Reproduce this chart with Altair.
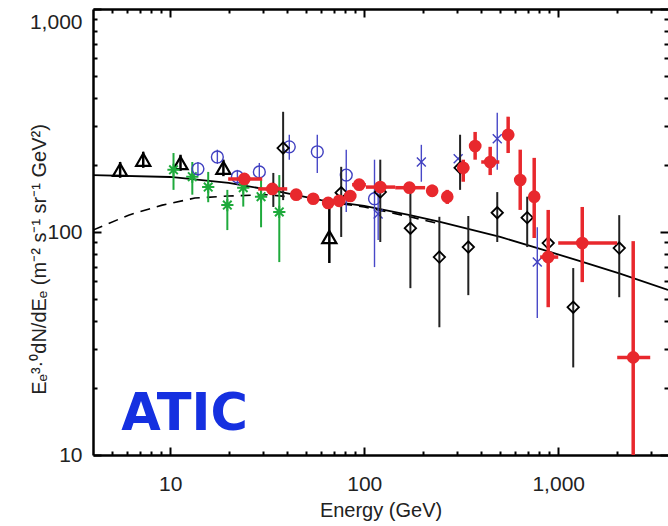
import altair as alt
import pandas as pd

# ---------------- data ----------------
# Black open triangles (with vertical error bars)
tri_x = [5.52, 7.26, 11.3, 18.8, 66.1]
tri_y = [190, 211, 204, 194, 95]
tri_lo = [175, 194, 188, 178, 72.6]
tri_hi = [206, 229, 222, 211, 132]

# Green asterisks
grn_x = [10.4, 13.0, 15.7, 19.7, 23.8, 29.4, 36.5]
grn_y = [190, 177, 159, 132, 158, 144, 123]
grn_lo = [154.5, 147, 136, 102, 130, 105, 73.3]
grn_hi = [226, 206, 186, 154.5, 171, 171, 180]

# Blue open circles
cir_x = [13.9, 17.5, 22.2, 28.8, 41.1, 57.3, 80.8, 113]
cir_y = [192, 217, 177, 186, 241, 229, 180, 141]
cir_lo = [178.5, 202, 163, 171, 211, 184, 123, 69.6]
cir_hi = [206, 234, 190, 204, 273, 273, 234, 211]

# Blue crosses
crs_x = [118, 197, 305, 485, 780]
crs_y = [120.5, 206, 213, 262, 73.3]
crs_lo = [92, 168, 213, 190, 41.1]
crs_hi = [146, 246, 213, 343, 105]

# Black open diamonds
dia_x = [34, 38.2, 76.1, 121, 173, 244, 312, 344, 485, 692, 888, 1195, 2063]
dia_y = [156, 238, 150, 151, 104, 77.2, 194, 85.6, 122, 116, 89.2, 46, 84.7]
dia_lo = [129.5, 139, 95, 90.2, 56, 37.4, 154.5, 52.1, 90.2, 85.6, 85.6, 24.7, 51]
dia_hi = [184, 346, 196, 211, 154.5, 117, 273, 118, 151, 144, 93, 68.9, 119]

# ATIC (red filled circles with x and y error bars)
atic_x = [24.1, 33.6, 44.6, 54.6, 65.2, 74.3, 84.7, 94.2, 121, 171, 224, 268,
          324, 373, 446, 552, 637, 752, 888, 1330, 2435]
atic_y = [173, 156, 147, 141, 135, 138, 145, 163, 159, 158, 153, 144,
          194, 243, 206, 273, 171, 144, 77.2, 89.2, 27.4]
atic_xlo = [19.9, 28.4, 41.5, 50.8, 60.7, 69.1, 78.8, 86.6, 102, 144.5, 211, 252,
            303, 348, 401, 514, 608, 726, 807, 1000, 2014]
atic_xhi = [29.8, 40.1, 47.9, 58.6, 70.0, 79.8, 90.9, 102, 144.5, 206, 238, 284,
            348, 401, 497, 593, 668, 780, 1000, 2014, 2980]
atic_ylo = [164, 148, 139, 133.6, 128, 131, 138, 154.5, 151, 150, 144, 133.6,
            168, 211, 180, 226, 125.6, 94, 46, 59.6, 10]
atic_yhi = [182, 164, 154.5, 148, 142, 145, 153, 171, 168, 166, 163, 154.5,
            211, 281, 241, 329, 234, 215, 125.6, 129.5, 91]

# Model curves
sol_x = [4, 10, 20, 34.7, 60, 100, 172, 246, 502, 806, 1296, 2083, 3680]
sol_y = [180, 176.5, 166, 153, 139, 131, 119, 111, 95, 84, 74, 65, 55]
dsh_x = [4, 6.1, 9.1, 13.4, 20, 32, 47, 100, 172, 246]
dsh_y = [102, 119, 132, 142, 145, 147, 142, 129.5, 117, 108.6]

x_major = [10, 100, 1000]
x_minor = [5, 6, 7, 8, 9, 20, 30, 40, 50, 60, 70, 80, 90,
           200, 300, 400, 500, 600, 700, 800, 900, 2000, 3000]
y_major = [10, 100, 1000]
y_minor = [20, 30, 40, 50, 60, 70, 80, 90, 200, 300, 400, 500, 600, 700, 800, 900]

label_text = ["ATIC"]
label_x = [5.59]
label_y = [12.9]

# ---------------- frames ----------------
tri = pd.DataFrame(dict(x=tri_x, y=tri_y, lo=tri_lo, hi=tri_hi))
grn = pd.DataFrame(dict(x=grn_x, y=grn_y, lo=grn_lo, hi=grn_hi))
cir = pd.DataFrame(dict(x=cir_x, y=cir_y, lo=cir_lo, hi=cir_hi))
crs = pd.DataFrame(dict(x=crs_x, y=crs_y, lo=crs_lo, hi=crs_hi))
dia = pd.DataFrame(dict(x=dia_x, y=dia_y, lo=dia_lo, hi=dia_hi))
atic = pd.DataFrame(dict(x=atic_x, y=atic_y, xlo=atic_xlo, xhi=atic_xhi,
                         lo=atic_ylo, hi=atic_yhi))
sol = pd.DataFrame(dict(x=sol_x, y=sol_y))
dsh = pd.DataFrame(dict(x=dsh_x, y=dsh_y))
lab = pd.DataFrame(dict(t=label_text, x=label_x, y=label_y))

FONT = "Liberation Sans"
W, H = 575, 446
MAJ, MIN = 8, 4
xs = alt.Scale(type="log", domain=[4, 3680], nice=False)
ys = alt.Scale(type="log", domain=[10, 1000], nice=False)

tick_style = dict(grid=False, tickColor="black", tickWidth=2, domain=False, title=None)


def tick_axis(orient, values, size, **kw):
    opts = dict(tick_style)
    opts.update(kw)
    if "labels" not in opts:
        opts["labels"] = False
    return alt.Axis(orient=orient, values=values, tickSize=size, offset=-size, **opts)


def frame_axis(orient):
    return alt.Axis(orient=orient, ticks=False, labels=False, domain=True,
                    domainColor="black", domainWidth=2.5, grid=False, title=None)


ax_b_major = tick_axis("bottom", x_major, MAJ, labels=True, format=",",
                       labelFont=FONT, labelFontSize=21, labelColor="#222",
                       labelPadding=18, title="Energy (GeV)", titleFont=FONT,
                       titleFontSize=20, titleFontWeight="normal", titleColor="#222",
                       titleX=W / 2, titleY=55 + MAJ, titleBaseline="middle")
ax_b_minor = tick_axis("bottom", x_minor, MIN)
ax_t_major = tick_axis("top", x_major, MAJ)
ax_t_minor = tick_axis("top", x_minor, MIN)

ax_l_major = tick_axis("left", y_major, MAJ, labels=True, format=",",
                       labelFont=FONT, labelFontSize=21, labelColor="#222",
                       labelPadding=11,
                       labelOffset={"condition": {"test": "datum.value >= 999", "value": 13},
                                    "value": 0},
                       title="Eₑ³·⁰dN/dEₑ (m⁻² s⁻¹ sr⁻¹ GeV²)", titleFont=FONT,
                       titleFontSize=20, titleFontWeight="normal", titleColor="#222",
                       titleX=-54 - MAJ, titleY=250, titleBaseline="middle",
                       titleAngle=270)
ax_l_minor = tick_axis("left", y_minor, MIN)
ax_r_major = tick_axis("right", y_major, MAJ)
ax_r_minor = tick_axis("right", y_minor, MIN)

ax_b_frame = frame_axis("bottom")
ax_l_frame = frame_axis("left")
ax_t_frame = frame_axis("top")


def X(field="x", axis=None):
    return alt.X(f"{field}:Q", scale=xs, axis=axis)


def Y(field="y", axis=None):
    return alt.Y(f"{field}:Q", scale=ys, axis=axis)


solid = alt.Chart(sol).mark_line(color="black", strokeWidth=1.8, clip=True).encode(
    x=X(axis=ax_b_major), y=Y(axis=ax_l_major))
dashed = alt.Chart(dsh).mark_line(color="black", strokeWidth=1.6, strokeDash=[10, 7],
                                  clip=True).encode(
    x=X(axis=ax_b_minor), y=Y(axis=ax_l_minor))

tri_bar = alt.Chart(tri).mark_rule(color="black", strokeWidth=2.5, clip=True).encode(
    x=X(axis=ax_t_major), y=Y("lo", axis=ax_r_major), y2="hi:Q")
tri_pt = alt.Chart(tri).mark_point(shape="triangle-up", size=200, color="black",
                                   strokeWidth=2.2, filled=False, opacity=1).encode(
    x=X(axis=ax_t_minor), y=Y(axis=ax_r_minor))

grn_bar = alt.Chart(grn).mark_rule(color="#1faa3c", strokeWidth=2, clip=True).encode(
    x=X(axis=ax_b_frame), y=Y("lo", axis=ax_l_frame), y2="hi:Q")
ASTER = "M0,-1L0,1M-1,0L1,0M-0.7,-0.7L0.7,0.7M-0.7,0.7L0.7,-0.7"
grn_pt = alt.Chart(grn).mark_point(shape=ASTER, size=150, color="#1faa3c",
                                   strokeWidth=2, filled=False, opacity=1).encode(
    x=X(axis=ax_t_frame), y=Y())

cir_bar = alt.Chart(cir).mark_rule(color="#4848c8", strokeWidth=1.4, clip=True).encode(
    x=X(), y=Y("lo"), y2="hi:Q")
cir_pt = alt.Chart(cir).mark_point(shape="circle", size=140, color="#4040c0",
                                   strokeWidth=1.4, filled=False, opacity=1).encode(
    x=X(), y=Y())

crs_bar = alt.Chart(crs).mark_rule(color="#4848c8", strokeWidth=1.4, clip=True).encode(
    x=X(), y=Y("lo"), y2="hi:Q")
XSHAPE = "M-1,-1L1,1M-1,1L1,-1"
crs_pt = alt.Chart(crs).mark_point(shape=XSHAPE, size=80, color="#4040c0",
                                   strokeWidth=1.4, filled=False, opacity=1).encode(
    x=X(), y=Y())

dia_bar = alt.Chart(dia).mark_rule(color="#222", strokeWidth=2, clip=True).encode(
    x=X(), y=Y("lo"), y2="hi:Q")
dia_pt = alt.Chart(dia).mark_point(shape="diamond", size=130, color="black",
                                   strokeWidth=1.8, filled=False, opacity=1).encode(
    x=X(), y=Y())

RED = "#e8282d"
atic_v = alt.Chart(atic).mark_rule(color=RED, strokeWidth=3.5, clip=True).encode(
    x=X(), y=Y("lo"), y2="hi:Q")
atic_h = alt.Chart(atic).mark_rule(color=RED, strokeWidth=3.5, clip=True).encode(
    x=X("xlo"), x2="xhi:Q", y=Y())
atic_pt = alt.Chart(atic).mark_point(shape="circle", size=160, color=RED,
                                     filled=True, opacity=1).encode(
    x=X(), y=Y())

atic_label = alt.Chart(lab).mark_text(font="DejaVu Sans", fontWeight="bold", fontSize=51,
                                      color="#1530e0", align="left",
                                      baseline="alphabetic").encode(
    x=X(), y=Y(), text="t:N")

chart = alt.layer(
    solid, dashed, tri_bar, tri_pt,
    grn_bar, grn_pt, cir_bar, cir_pt, crs_bar, crs_pt,
    dia_bar, dia_pt, atic_v, atic_h, atic_pt, atic_label,
).resolve_axis(x="independent", y="independent").properties(
    width=W, height=H,
    autosize=alt.AutoSizeParams(type="none"),
    padding={"left": 93, "top": 9, "right": 0, "bottom": 71},
    background="white",
).configure_view(stroke=None)

chart.save("out.html", embed_options={"renderer": "svg", "actions": False})
